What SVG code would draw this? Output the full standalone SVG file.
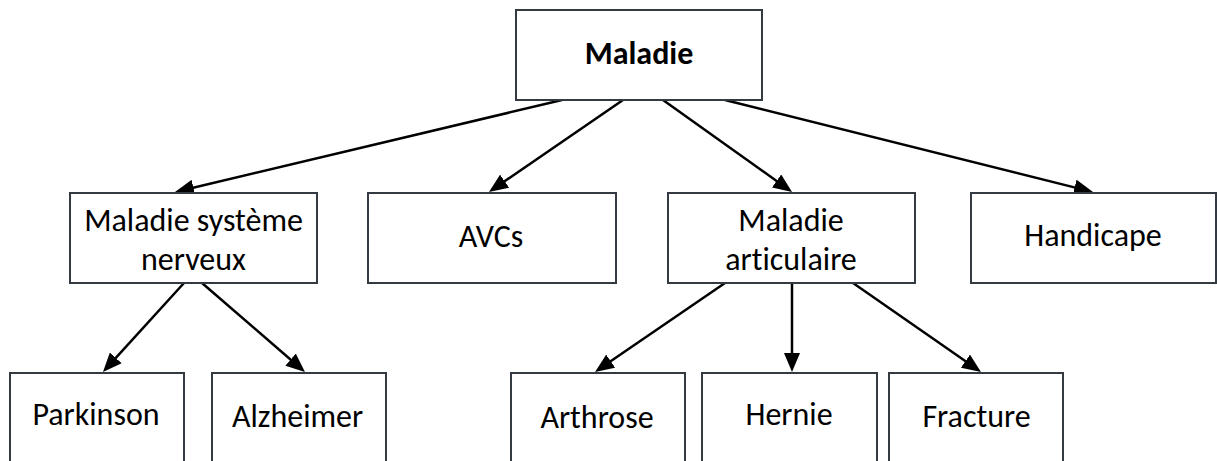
<svg xmlns="http://www.w3.org/2000/svg" width="1217" height="461" viewBox="0 0 1217 461">
  <style>
    .box { fill: #ffffff; stroke: #343a42; stroke-width: 2; }
    .lbl { font-family: Calibri, Carlito, Lato, "Liberation Sans", sans-serif; font-size: 32px; fill: #000000; text-anchor: middle; font-variant-ligatures: none; font-feature-settings: "liga" 0, "clig" 0; }
    .bold { font-weight: bold; }
    .edge { stroke: #000000; stroke-width: 2.5; fill: none; marker-end: url(#head); }
  </style>
  <defs>
    <marker id="head" markerUnits="userSpaceOnUse" viewBox="0 0 19 16" refX="9" refY="8" markerWidth="19" markerHeight="16" orient="auto">
      <path d="M0,0 L19,8 L0,16 z" fill="#000000"/>
    </marker>
  </defs>
  <rect width="1217" height="461" fill="#ffffff"/>

  <!-- connectors -->
  <g id="connectors">
    <line class="edge" x1="562" y1="100" x2="184.7" y2="189.7"/>
    <line class="edge" x1="623" y1="100" x2="497.2" y2="186.3"/>
    <line class="edge" x1="663" y1="100" x2="783.9" y2="186.2"/>
    <line class="edge" x1="725" y1="100" x2="1083.3" y2="189.6"/>
    <line class="edge" x1="184" y1="283" x2="109.7" y2="364.6"/>
    <line class="edge" x1="202" y1="283" x2="297.4" y2="365.5"/>
    <line class="edge" x1="725" y1="283" x2="603.3" y2="366.3"/>
    <line class="edge" x1="792" y1="283" x2="792" y2="362"/>
    <line class="edge" x1="853" y1="283" x2="972.8" y2="366.3"/>
  </g>

  <!-- root -->
  <g id="maladie">
    <rect class="box" x="516" y="10" width="246" height="90"/>
    <text class="lbl bold" x="639" y="64">Maladie</text>
  </g>

  <!-- second level -->
  <g id="systeme-nerveux">
    <rect class="box" x="70" y="193" width="247" height="90"/>
    <text class="lbl" x="193.5" y="231">Maladie système</text>
    <text class="lbl" x="193.5" y="270">nerveux</text>
  </g>
  <g id="avcs">
    <rect class="box" x="368" y="193" width="248" height="90"/>
    <text class="lbl" x="491" y="247">AVCs</text>
  </g>
  <g id="articulaire">
    <rect class="box" x="668" y="193" width="247" height="90"/>
    <text class="lbl" x="791" y="231">Maladie</text>
    <text class="lbl" x="791" y="269.5">articulaire</text>
  </g>
  <g id="handicape">
    <rect class="box" x="971" y="193" width="245" height="90"/>
    <text class="lbl" x="1093" y="246">Handicape</text>
  </g>

  <!-- third level -->
  <g id="parkinson">
    <rect class="box" x="10" y="373" width="174" height="110"/>
    <text class="lbl" x="96" y="425">Parkinson</text>
  </g>
  <g id="alzheimer">
    <rect class="box" x="212" y="373" width="174" height="110"/>
    <text class="lbl" x="297.5" y="426.5">Alzheimer</text>
  </g>
  <g id="arthrose">
    <rect class="box" x="511" y="373" width="174" height="110"/>
    <text class="lbl" x="597" y="427.5">Arthrose</text>
  </g>
  <g id="hernie">
    <rect class="box" x="702" y="373" width="175" height="110"/>
    <text class="lbl" x="789" y="425">Hernie</text>
  </g>
  <g id="fracture">
    <rect class="box" x="889" y="373" width="174" height="110"/>
    <text class="lbl" x="976.5" y="426.5">Fracture</text>
  </g>
</svg>
